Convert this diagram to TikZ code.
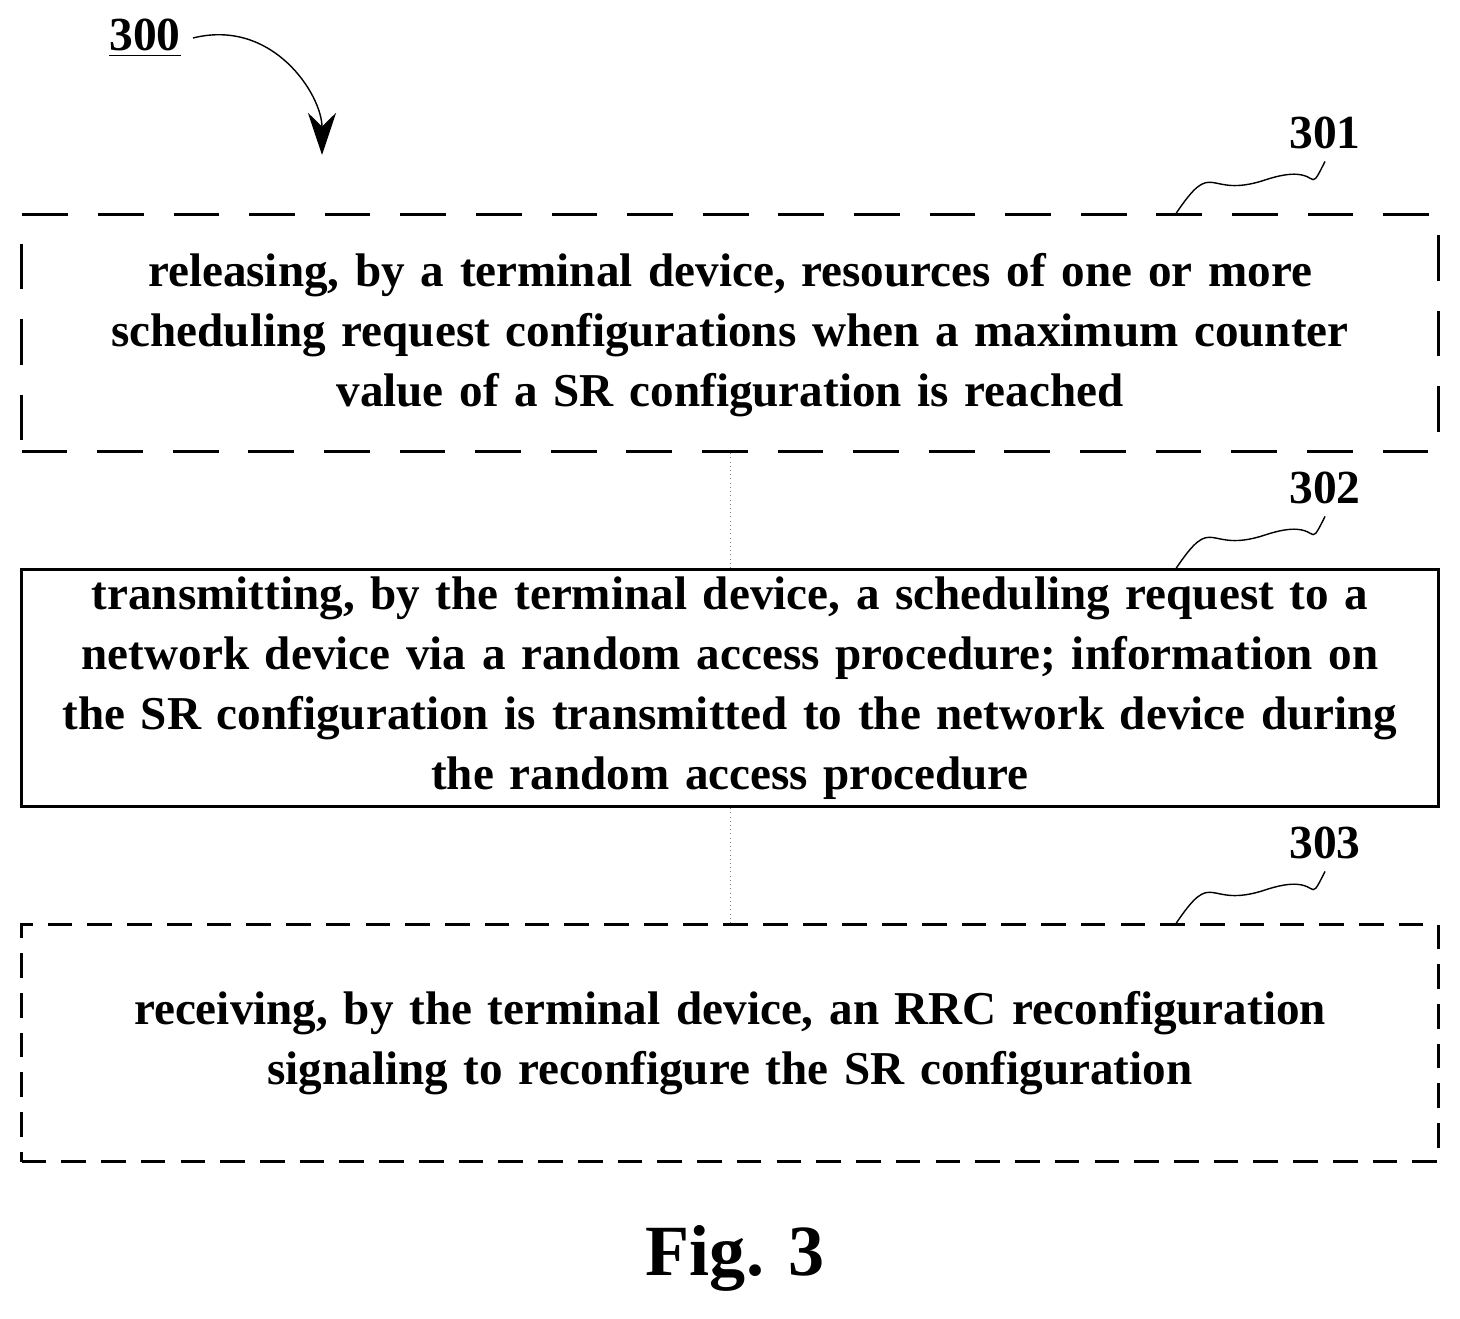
\documentclass[tikz,border=0pt]{standalone}
\usepackage{fontspec}
\setmainfont{Liberation Serif}
\usetikzlibrary{arrows.meta}

\begin{document}
\begin{tikzpicture}[x=0.01cm,y=-0.01cm]
    \tikzset{stepbox/.style = {draw, line width=0.9pt, minimum width=14.16cm, minimum height=2.37cm, inner sep=0pt}}
    \tikzset{steptext/.style = {text width=15cm, align=center, font=\bfseries\fontsize{13.4}{17}\selectfont}}
    \tikzset{reflabel/.style = {font=\bfseries\fontsize{13.5}{15}\selectfont}}
    \tikzset{squiggle/.style = {draw, thin}}
    \useasboundingbox (0,0) rectangle (1460,1319);

    % boxes
    \node[stepbox, dash pattern=on 13pt off 8.5pt] (s1) at (730,333) {};
    \node[stepbox] (s2) at (730,688) {};
    \node[stepbox, dash pattern=on 7pt off 4.3pt] (s3) at (730,1043) {};
    \node[steptext] (t1) at (730,335) {releasing, by a terminal device, resources of one or more\\ scheduling request configurations when a maximum counter\\ value of a SR configuration is reached};
    \node[steptext] (t2) at (730,688) {transmitting, by the terminal device, a scheduling request to a\\ network device via a random access procedure; information on\\ the SR configuration is transmitted to the network device during\\ the random access procedure};
    \node[steptext] (t3) at (730,1043) {receiving, by the terminal device, an RRC reconfiguration\\ signaling to reconfigure the SR configuration};

    % links
    \draw[gray, very thin, densely dotted] (s1.south) -- (s2.north);
    \draw[gray, very thin, densely dotted] (s2.south) -- (s3.north);

    % labels
    \node[reflabel] (l300) at (145,38) {\underline{300}};
    \node[reflabel] (l301) at (1325,133) {301};
    \node[reflabel] (l302) at (1325,488) {302};
    \node[reflabel] (l303) at (1325,843) {303};
    \coordinate (c1) at (1175,215);
    \coordinate (c2) at (1175,570);
    \coordinate (c3) at (1175,925);
    \coordinate (a300) at (322,155);
    \foreach \c/\l in {c1/l301, c2/l302, c3/l303}
        \draw[squiggle] (\c) .. controls +(40,-60) and +(-60,20) .. ++(90,-35) .. controls +(60,-20) and +(-20,40) .. (\l.south);
    \draw[-{Stealth[length=12pt,width=8pt]}] (l300.east) .. controls +(80,-20) and +(0,-60) .. (a300);

    \node[font=\bfseries\fontsize{20.5}{22}\selectfont] (fig) at (735,1258) {Fig. 3};
\end{tikzpicture}
\end{document}
